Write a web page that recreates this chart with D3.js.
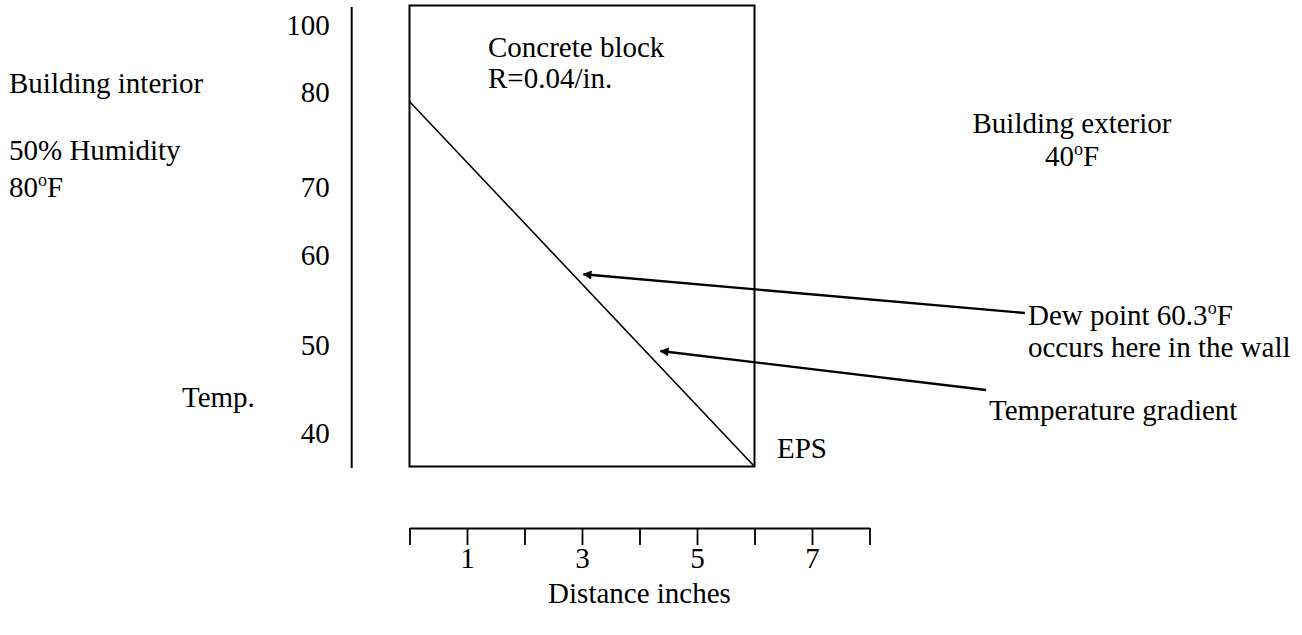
<!DOCTYPE html>
<html>
<head>
<meta charset="utf-8">
<script src="https://cdn.jsdelivr.net/npm/d3@7"></script>
<style>
  body { margin: 0; background: #fff; }
  text { font-family: "Liberation Serif", "Times New Roman", serif; fill: #000; }
</style>
</head>
<body>
<div id="chart-area"></div>
<script>
//============================DATA============================
// temperature labels down the left side (deg F)
var tempTicks = [100, 80, 70, 60, 50, 40];
// distance through the wall, inches
var distTicks = [0, 1, 2, 3, 4, 5, 6, 7, 8];
var distLabels = [1, 3, 5, 7];
// temperature gradient through the concrete block
var gradDist = [0, 6];
var gradTemp = [80, 40];
var blockThickness = 6;
var blockR = 0.04;
var interiorTemp = 80;
var exteriorTemp = 40;
var humidity = 50;
var dewPoint = 60.3;
var gradNoteDist = 4.2;

//============================LAYOUT============================
var svgW = 1302, svgH = 635;
var fontSize = 29;

var svg = d3.select("#chart-area")
    .append("svg")
    .attr("width", svgW)
    .attr("height", svgH);

// distance scale (shared by the ruler at the bottom and the wall box)
var x = d3.scaleLinear()
    .domain([0, 8])
    .range([409.5, 869.5]);

// temperature scale for the gradient line
var y = d3.scaleLinear()
    .domain([40, 80])
    .range([466.5, 101.5]);

// the left hand labels are hand spaced in the original drawing
var yLab = d3.scaleLinear()
    .domain(tempTicks)
    .range([25, 92.5, 187, 255, 345, 433]);

// arrow heads
svg.append("defs").append("marker")
    .attr("id", "arrow")
    .attr("viewBox", "0 0 10 10")
    .attr("refX", 9)
    .attr("refY", 5)
    .attr("markerUnits", "userSpaceOnUse")
    .attr("markerWidth", 12)
    .attr("markerHeight", 9)
    .attr("orient", "auto")
    .append("path")
    .attr("d", "M0,0L10,5L0,10z")
    .attr("fill", "#000");

// small helper for text with a raised "o" used as degree sign
function label(px, py, str, anchor) {
    var t = svg.append("text")
        .attr("x", px)
        .attr("y", py)
        .attr("font-size", fontSize)
        .attr("text-anchor", anchor || "start");
    var parts = str.split("\u00b0");
    t.append("tspan").text(parts[0]);
    if (parts.length > 1) {
        t.append("tspan").attr("font-size", 18).attr("dy", -11).text("o");
        t.append("tspan").attr("dy", 11).text(parts[1]);
    }
    return t;
}

//============================Y AXIS============================
var yAxisCall = d3.axisLeft(yLab)
    .tickValues(tempTicks)
    .tickSize(0)
    .tickPadding(22);
var yAx = svg.append("g")
    .attr("transform", "translate(351.7,0)")
    .call(yAxisCall);
yAx.select(".domain").remove();
yAx.selectAll("text")
    .attr("font-size", fontSize)
    .attr("font-family", "Liberation Serif, serif")
    .attr("fill", "#000");

svg.append("line")
    .attr("x1", 351.7).attr("x2", 351.7)
    .attr("y1", 7).attr("y2", 468)
    .attr("stroke", "#000")
    .attr("stroke-width", 2);

//============================WALL BOX============================
svg.append("rect")
    .attr("x", x(0))
    .attr("y", 5.5)
    .attr("width", x(blockThickness) - x(0))
    .attr("height", y(exteriorTemp) - 5.5)
    .attr("fill", "none")
    .attr("stroke", "#000")
    .attr("stroke-width", 2);

// gradient line
var line = d3.line()
    .x(function(d){ return x(d[0]); })
    .y(function(d){ return y(d[1]); });
svg.append("path")
    .attr("d", line(d3.zip(gradDist, gradTemp)))
    .attr("fill", "none")
    .attr("stroke", "#000")
    .attr("stroke-width", 1.6);

//============================X AXIS============================
var xAxisCall = d3.axisBottom(x)
    .tickValues(distTicks)
    .tickSize(17)
    .tickSizeOuter(0)
    .tickPadding(2)
    .tickFormat(function(d){ return distLabels.indexOf(d) >= 0 ? d : ""; });
var xAx = svg.append("g")
    .attr("transform", "translate(0,528)")
    .call(xAxisCall);
xAx.selectAll("line, path").attr("stroke", "#000").attr("stroke-width", 1.8);
xAx.selectAll("text")
    .attr("font-size", fontSize)
    .attr("font-family", "Liberation Serif, serif")
    .attr("fill", "#000");

label((x(0) + x(8)) / 2, 603, "Distance inches", "middle");

//============================TEXT============================
label(9, 93, "Building interior");
label(9, 160, humidity + "% Humidity");
label(9, 197, interiorTemp + "\u00b0F");
label(182, 407, "Temp.");

label(488, 57, "Concrete block");
label(488, 88, "R=" + blockR.toFixed(2) + "/in.");

label(1072, 133, "Building exterior", "middle");
label(1072, 166, exteriorTemp + "\u00b0F", "middle");

label(777, 458, "EPS");

label(1028, 325, "Dew point " + dewPoint + "\u00b0F");
label(1028, 357, "occurs here in the wall");
label(989, 420, "Temperature gradient");

//============================ARROWS============================
// point on the gradient where a temperature is reached
function gradAt(temp) {
    var d = gradDist[0] + (gradTemp[0] - temp) / (gradTemp[0] - gradTemp[1]) * (gradDist[1] - gradDist[0]);
    return [x(d), y(temp)];
}
var dewPt = gradAt(dewPoint);
var gradT = gradTemp[0] - (gradNoteDist - gradDist[0]) / (gradDist[1] - gradDist[0]) * (gradTemp[0] - gradTemp[1]);
var notePt = gradAt(gradT);

var arrows = [
    { from: [1025, 313], to: [dewPt[0] + 4, dewPt[1] - 7] },
    { from: [986, 390], to: [notePt[0] + 9.5, notePt[1] - 6] }
];

svg.selectAll(".arrow")
    .data(arrows)
    .enter()
    .append("line")
    .attr("class", "arrow")
    .attr("x1", function(d){ return d.from[0]; })
    .attr("y1", function(d){ return d.from[1]; })
    .attr("x2", function(d){ return d.to[0]; })
    .attr("y2", function(d){ return d.to[1]; })
    .attr("stroke", "#000")
    .attr("stroke-width", 2.4)
    .attr("marker-end", "url(#arrow)");
</script>
</body>
</html>
